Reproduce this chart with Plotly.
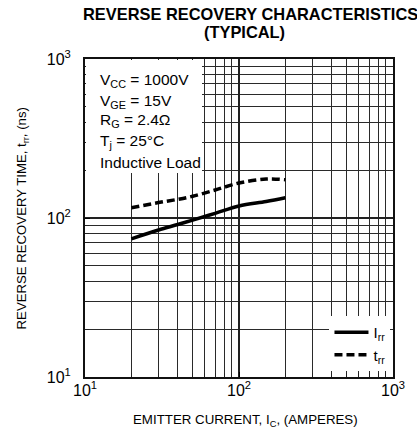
import plotly.graph_objects as go

# Data
emitter_current = [20, 30, 40, 50, 70, 100, 150, 200]          # I_C (A)
irr_values = [74, 84, 91, 97, 107, 119, 127, 134]               # I_rr curve (solid)
trr_values = [116, 125, 131, 137, 150, 166, 176, 174]           # t_rr curve (dashed)

major_ticks = [10, 100, 1000]
major_labels = ["10<sup>1</sup>", "10<sup>2</sup>", "10<sup>3</sup>"]
minor_ticks = [m * d for d in (10, 100) for m in range(2, 10)]

conditions = ["V<sub>CC</sub> = 1000V", "V<sub>GE</sub> = 15V", "R<sub>G</sub> = 2.4Ω",
              "T<sub>j</sub> = 25°C", "Inductive Load"]

FONT = "Liberation Sans, Arial, Helvetica, sans-serif"
W, H = 417, 432
L, R, T, B = 85, 12, 59, 55
PW, PH = W - L - R, H - T - B

def px_x(p):
    return (p - L) / PW

def px_y(p):
    return (H - B - p) / PH

fig = go.Figure()
fig.add_trace(go.Scatter(x=emitter_current, y=irr_values, mode="lines", name="I<sub>rr</sub>",
                         line=dict(color="black", width=3.5, shape="spline")))
fig.add_trace(go.Scatter(x=emitter_current, y=trr_values, mode="lines", name="t<sub>rr</sub>",
                         line=dict(color="black", width=3.5, dash="8px,4px", shape="spline")))

axis_common = dict(
    type="log",
    tickvals=major_ticks, ticktext=major_labels,
    showgrid=True, gridcolor="#222", gridwidth=1.6,
    minor=dict(tickvals=minor_ticks, showgrid=True, gridcolor="#2a2a2a", gridwidth=1,
               ticks="inside", ticklen=4, tickcolor="#222"),
    ticks="inside", ticklen=5, tickcolor="black",
    showline=True, linecolor="#111", linewidth=2, mirror=True,
    tickfont=dict(family=FONT, size=16, color="black"),
    zeroline=False,
)
fig.update_xaxes(range=[1, 3], ticklabelstandoff=-2, **axis_common)
fig.update_yaxes(range=[1, 3], ticklabelstandoff=9, **axis_common)

# white box behind the conditions text (covers grid)
bx0, bx1, by0, by1 = 86.5, 202, 60, 173
fig.add_annotation(text=" ", xref="paper", yref="paper",
                   x=px_x(bx0), y=px_y(by0), xanchor="left", yanchor="top", showarrow=False,
                   width=bx1 - bx0, height=by1 - by0, bgcolor="white", borderpad=0, borderwidth=0)

row_y = [80, 101, 121, 141, 162]
for txt, yy in zip(conditions, row_y):
    fig.add_annotation(text=txt, xref="paper", yref="paper", x=px_x(98), y=px_y(yy),
                       xanchor="left", yanchor="middle", showarrow=False,
                       font=dict(family=FONT, size=15.5, color="black"))

# title
fig.add_annotation(text="<b>REVERSE RECOVERY CHARACTERISTICS</b>", xref="paper", yref="paper",
                   x=px_x(257), y=px_y(14), xanchor="center", yanchor="middle", showarrow=False,
                   borderpad=0, font=dict(family=FONT, size=16.4, color="black"))
fig.add_annotation(text="<b>(TYPICAL)</b>", xref="paper", yref="paper",
                   x=px_x(251), y=px_y(32), xanchor="center", yanchor="middle", showarrow=False,
                   borderpad=0, font=dict(family=FONT, size=16.4, color="black"))

# axis titles
fig.add_annotation(text="EMITTER CURRENT, I<sub>C</sub>, (AMPERES)", xref="paper", yref="paper",
                   x=px_x(252), y=px_y(420), xanchor="center", yanchor="middle", showarrow=False,
                   font=dict(family=FONT, size=13.3, color="black"))
fig.add_annotation(text="REVERSE RECOVERY TIME, t<sub>rr</sub>, (ns)", xref="paper", yref="paper",
                   x=px_x(20), y=px_y(218), xanchor="center", yanchor="middle", showarrow=False,
                   textangle=-90, font=dict(family=FONT, size=13.2, color="black"))

fig.update_layout(
    width=W, height=H,
    margin=dict(l=L, r=R, t=T, b=B),
    paper_bgcolor="white", plot_bgcolor="white",
    font=dict(family=FONT, color="black"),
    showlegend=True,
    legend=dict(x=px_x(339), y=px_y(316), xanchor="left", yanchor="top",
                bgcolor="white", borderwidth=0, itemwidth=34,
                font=dict(family=FONT, size=15, color="black"),
                tracegroupgap=0),
)

fig.write_html("out.html", config={"displayModeBar": False},
               post_script="document.body.style.margin='0';")
